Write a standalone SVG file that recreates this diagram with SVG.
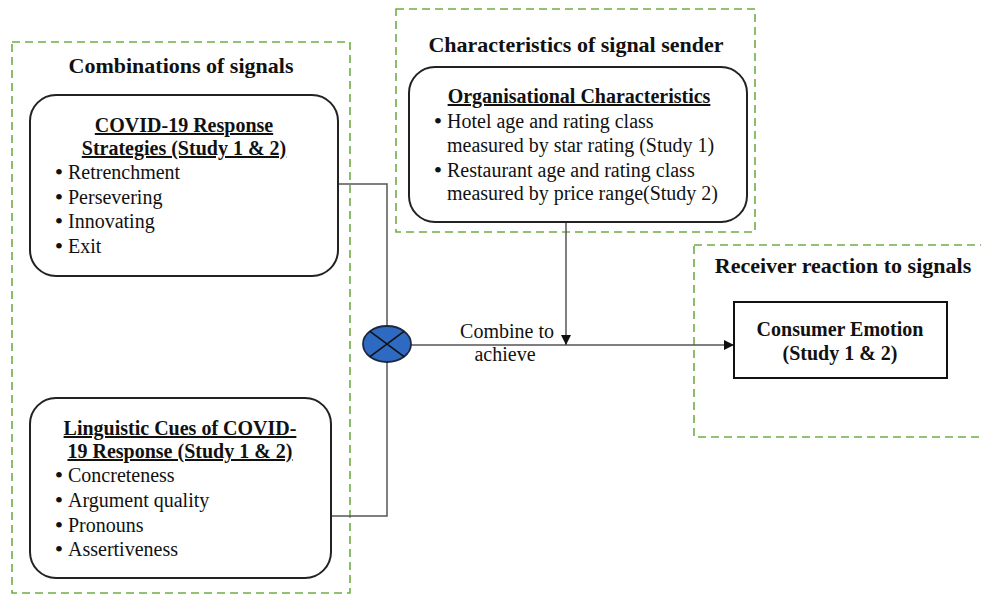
<svg xmlns="http://www.w3.org/2000/svg" width="981" height="598" viewBox="0 0 981 598">
<defs>
<style>
text{font-family:"Liberation Serif","Times New Roman",serif;fill:#111;}
.grp{fill:none;stroke:#70ad47;stroke-width:1.6;stroke-dasharray:8 5;}
.box{fill:#fff;stroke:#222;stroke-width:2;}
.ttl{font-size:22px;font-weight:bold;text-anchor:middle;}
.hd{font-size:20px;font-weight:bold;text-anchor:middle;text-decoration:underline;}
.bl{font-size:20px;}
.dot{font-size:24px;text-anchor:middle;}
.ln{fill:none;stroke:#555;stroke-width:1.5;}
</style>
<marker id="arr" viewBox="0 0 10 10" refX="10" refY="5" markerWidth="10" markerHeight="10" markerUnits="userSpaceOnUse" orient="auto">
<path d="M0,0 L10,5 L0,10 z" fill="#111"/>
</marker>
</defs>

<g id="group-combinations">
<rect class="grp" x="12" y="42" width="338" height="551"/>
<text class="ttl" x="181" y="73">Combinations of signals</text>
</g>
<g id="group-sender">
<rect class="grp" x="396" y="9" width="359" height="223"/>
<text class="ttl" x="576" y="52">Characteristics of signal sender</text>
</g>
<g id="group-receiver">
<rect class="grp" x="694" y="245" width="300" height="192"/>
<text class="ttl" x="843" y="273">Receiver reaction to signals</text>
</g>

<g id="connectors">
<path class="ln" d="M338,184 H387 V326"/>
<path class="ln" d="M331,516 H387 V361"/>
<path class="ln" d="M411,345 H734" marker-end="url(#arr)"/>
<path class="ln" d="M566,222 V345" marker-end="url(#arr)"/>
<text x="507" y="338" style="font-size:20px;text-anchor:middle">Combine to</text>
<text x="505" y="361" style="font-size:20px;text-anchor:middle">achieve</text>
</g>

<g id="node-covid">
<rect class="box" x="30" y="95" width="308" height="181" rx="26"/>
<text class="hd" x="184" y="132">COVID-19 Response</text>
<text class="hd" x="184" y="155">Strategies (Study 1 &amp; 2)</text>
<text class="dot" x="59" y="180">•</text>
<text class="dot" x="59" y="205">•</text>
<text class="dot" x="59" y="229">•</text>
<text class="dot" x="59" y="254">•</text>
<text class="bl" x="68" y="179">Retrenchment</text>
<text class="bl" x="68" y="204">Persevering</text>
<text class="bl" x="68" y="228">Innovating</text>
<text class="bl" x="68" y="253">Exit</text>
</g>

<g id="node-linguistic">
<rect class="box" x="30" y="398" width="301" height="180" rx="26"/>
<text class="hd" x="180" y="435">Linguistic Cues of COVID-</text>
<text class="hd" x="180" y="458">19 Response (Study 1 &amp; 2)</text>
<text class="dot" x="59" y="483">•</text>
<text class="dot" x="59" y="508">•</text>
<text class="dot" x="59" y="533">•</text>
<text class="dot" x="59" y="557">•</text>
<text class="bl" x="68" y="482">Concreteness</text>
<text class="bl" x="68" y="507">Argument quality</text>
<text class="bl" x="68" y="532">Pronouns</text>
<text class="bl" x="68" y="556">Assertiveness</text>
</g>

<g id="node-org">
<rect class="box" x="409" y="67" width="338" height="155" rx="26"/>
<text class="hd" x="579" y="103">Organisational Characteristics</text>
<text class="dot" x="438" y="129">•</text>
<text class="dot" x="438" y="178">•</text>
<text class="bl" x="447" y="128">Hotel age and rating class</text>
<text class="bl" x="447" y="152">measured by star rating (Study 1)</text>
<text class="bl" x="447" y="177">Restaurant age and rating class</text>
<text class="bl" x="447" y="200">measured by price range(Study 2)</text>
</g>

<g id="node-combine">
<ellipse cx="387" cy="344" rx="24" ry="18" fill="#2f6ac2" stroke="#1a2a44" stroke-width="1.8"/>
<path d="M370,331.3 L404,356.7 M404,331.3 L370,356.7" stroke="#111" stroke-width="1.6"/>
</g>

<g id="node-emotion">
<rect x="734" y="302" width="213" height="76" fill="#fff" stroke="#111" stroke-width="2"/>
<text class="ttl" x="840" y="336" style="font-size:20px">Consumer Emotion</text>
<text class="ttl" x="840" y="360" style="font-size:20px">(Study 1 &amp; 2)</text>
</g>
</svg>
